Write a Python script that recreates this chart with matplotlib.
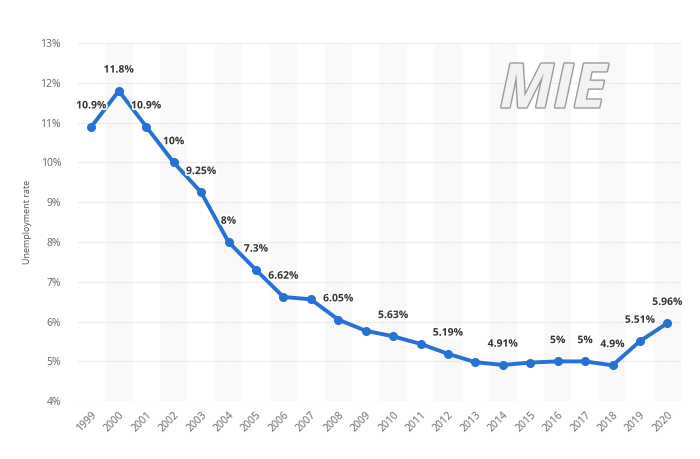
import matplotlib
matplotlib.use('Agg')
import matplotlib.pyplot as plt
import matplotlib.patheffects as pe

years = [str(y) for y in range(1999, 2021)]
rates = [10.9, 11.8, 10.9, 10.0, 9.25, 8.0, 7.3, 6.62, 6.56, 6.05, 5.77,
         5.63, 5.44, 5.19, 4.98, 4.91, 4.97, 5.0, 5.0, 4.9, 5.51, 5.96]
# which points carry a value label
shown = [True, True, True, True, True, True, True, True, False, True, False,
         True, False, True, False, True, False, True, True, True, True, True]
labels = ['10.9%', '11.8%', '10.9%', '10%', '9.25%', '8%', '7.3%', '6.62%', '', '6.05%', '',
          '5.63%', '', '5.19%', '', '4.91%', '', '5%', '5%', '4.9%', '5.51%', '5.96%']
yticks = [4, 5, 6, 7, 8, 9, 10, 11, 12, 13]

plt.rcParams['font.family'] = ['Open Sans', 'DejaVu Sans']

fig = plt.figure(figsize=[7, 4.59], dpi=100)
ax = fig.add_axes([0.111, 0.126, 0.862, 0.78])

x = list(range(len(years)))
# alternating light bands on even years
for i in x:
    if i % 2 == 1:
        ax.axvspan(i - 0.5, i + 0.5, color='#f9f9f9', zorder=0, lw=0)

ax.plot(x, rates, color='#2671d6', lw=2.8, marker='o', ms=5.5, zorder=3,
        solid_joinstyle='round')

for i, (r, lab) in enumerate(zip(rates, labels)):
    if shown[i]:
        ax.annotate(lab, (i, r), xytext=(0, 11), textcoords='offset points',
                    ha='center', va='bottom', fontsize=7.5, fontweight='bold',
                    color='#333333', zorder=4,
                    path_effects=[pe.withStroke(linewidth=2.5, foreground='white')])

ax.set_xlim(-0.5, len(years) - 0.5)
ax.set_ylim(4, 13)
ax.set_yticks(yticks)
ax.set_yticklabels(['%d%%' % t for t in yticks])
ax.set_xticks(x)
ax.set_xticklabels(years, rotation=45, ha='right', rotation_mode='anchor')
ax.tick_params(axis='both', length=0, labelsize=7.5, colors='#666666')
ax.tick_params(axis='x', pad=6)
ax.tick_params(axis='y', pad=12)
ax.grid(axis='y', color='#dddddd', ls=(0, (1, 1)), lw=0.8)
ax.set_axisbelow(True)
for s in ax.spines.values():
    s.set_visible(False)
ax.set_ylabel('Unemployment rate', fontsize=6.5, color='#555555', labelpad=6)

# watermark logo (approximation)
fig.text(0.79, 0.80, 'MIE', fontsize=44, fontweight='bold', style='italic',
         color='#f2f2f2', ha='center', va='center', zorder=5,
         path_effects=[pe.withStroke(linewidth=2, foreground='#9a9a9a')])

fig.savefig('out.png', dpi=100)
